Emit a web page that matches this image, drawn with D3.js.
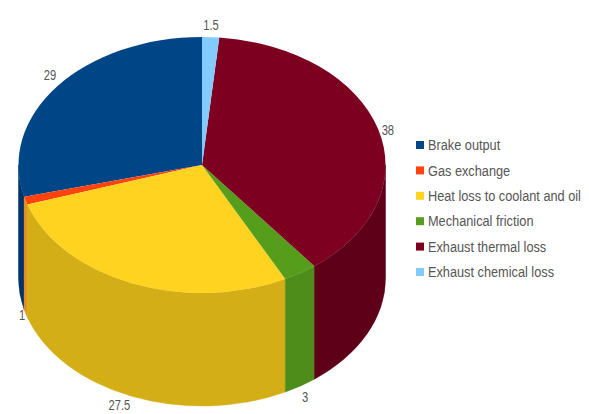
<!DOCTYPE html>
<html>
<head>
<meta charset="utf-8">
<style>
  html, body { margin: 0; padding: 0; background: #fff; }
  svg { display: block; }
  text { font-family: "Liberation Sans", sans-serif; fill: #555; }
</style>
<script src="https://cdn.jsdelivr.net/npm/d3@7/dist/d3.min.js"></script>
</head>
<body>
<script>
// Engine energy balance, drawn as an extruded pie
const categories = ["Brake output", "Gas exchange", "Heat loss to coolant and oil",
                    "Mechanical friction", "Exhaust thermal loss", "Exhaust chemical loss"];
const shares = [29, 1, 27.5, 3, 38, 1.5];
const shareLabels = ["29", "1", "27.5", "3", "38", "1.5"];
const topColors = ["#004586", "#ff420e", "#ffd320", "#579d1c", "#7e0021", "#83caff"];
const wallColors = ["#003468", "#e8901c", "#d4ae16", "#4e8d19", "#5f0019", "#6aa3ce"];

const width = 589, height = 414;
const cx = 202, cy = 165, rx = 183.5, ry = 128, depth = 113;

// Small per-label shifts away from the computed rim position
const labelNudgeX = [0, 5, -9, 0, 1, 0];
const labelNudgeY = [-4, -2, -2, 1, 4, 0];

const svg = d3.select("body").append("svg").attr("width", width).attr("height", height);

const fill = d3.scaleOrdinal().domain(categories).range(topColors);
const wallFill = d3.scaleOrdinal().domain(categories).range(wallColors);

// Slices run counter-clockwise from twelve o'clock
const pie = d3.pie().value((d, i) => shares[i]).sort(null)
  .startAngle(0).endAngle(-2 * Math.PI);
const slices = pie(categories);

const px = a => cx + rx * Math.sin(a);
const py = a => cy - ry * Math.cos(a);

// Outer wall of one slice, limited to the half of the rim that faces the viewer
function wallPath(a0, a1) {
  const x0 = px(a0), y0 = py(a0), x1 = px(a1), y1 = py(a1);
  const sweep = a1 > a0 ? 1 : 0;
  return `M${x0},${y0}A${rx},${ry} 0 0 ${sweep} ${x1},${y1}` +
         `L${x1},${y1 + depth}A${rx},${ry} 0 0 ${1 - sweep} ${x0},${y0 + depth}Z`;
}

const walls = slices.map(s => {
  const hi = s.startAngle, lo = s.endAngle;
  const from = -3 * Math.PI / 2, to = -Math.PI / 2;
  return { s, a0: Math.max(lo, from), a1: Math.min(hi, to) };
}).filter(w => w.a1 > w.a0);

svg.append("g").selectAll("path").data(walls).join("path")
  .attr("d", w => wallPath(w.a0, w.a1))
  .attr("fill", w => wallFill(w.s.data))
  .attr("stroke", w => wallFill(w.s.data))
  .attr("stroke-width", 0.5);

// Top face: a circular pie squashed into an ellipse
const arc = d3.arc().innerRadius(0).outerRadius(rx);
svg.append("g")
  .attr("transform", `translate(${cx},${cy}) scale(1,${ry / rx})`)
  .selectAll("path").data(slices).join("path")
  .attr("d", arc)
  .attr("fill", s => fill(s.data));

// Value labels sit just outside the rim; lower ones clear the wall as well
const labelRx = rx + 9, labelRy = ry + 12;
svg.append("g").selectAll("text").data(slices).join("text")
  .attr("transform", (s, i) => {
    const m = (s.startAngle + s.endAngle) / 2;
    const below = Math.cos(m) < 0 ? depth : 0;
    const x = cx + labelRx * Math.sin(m) + labelNudgeX[i];
    const y = cy - labelRy * Math.cos(m) + below + labelNudgeY[i];
    return `translate(${x},${y}) scale(0.8,1)`;
  })
  .attr("dy", "0.35em")
  .attr("text-anchor", "middle")
  .attr("font-size", 14)
  .text((s, i) => shareLabels[i]);

// Legend, with the labels set in a condensed width
const legendY = d3.scalePoint().domain(categories).range([145, 272]);
const legend = svg.append("g").selectAll("g").data(categories).join("g")
  .attr("transform", d => `translate(416,${legendY(d)})`);
legend.append("rect")
  .attr("y", -4).attr("width", 8).attr("height", 8)
  .attr("fill", d => fill(d));
legend.append("text")
  .attr("transform", "translate(12,0) scale(0.85,1)")
  .attr("dy", "0.35em")
  .attr("font-size", 15)
  .text(d => d);
</script>
</body>
</html>
